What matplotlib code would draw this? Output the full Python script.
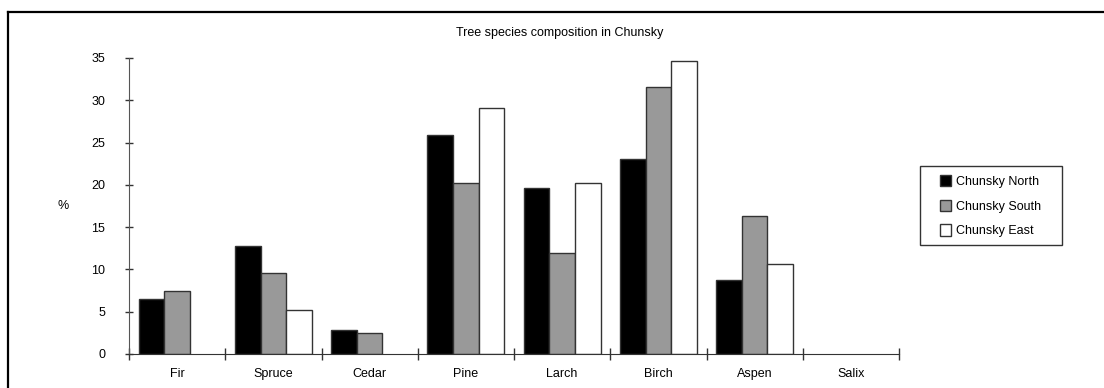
import numpy as np
import matplotlib
matplotlib.use("Agg")
import matplotlib.pyplot as plt
from matplotlib.lines import Line2D
from matplotlib.patches import Patch, Rectangle

plt.rcParams['font.family'] = ['Liberation Sans', 'DejaVu Sans']

species = ["Fir", "Spruce", "Cedar", "Pine", "Larch", "Birch", "Aspen", "Salix"]
series_names = ["Chunsky North", "Chunsky South", "Chunsky East"]
north = [6.5, 12.8, 2.8, 25.9, 19.6, 23.1, 8.8, 0.0]
south = [7.5, 9.6, 2.5, 20.2, 12.0, 31.6, 16.3, 0.0]
east = [0.0, 5.2, 0.0, 29.1, 20.2, 34.6, 10.7, 0.0]
y_ticks = [0, 5, 10, 15, 20, 25, 30, 35]

W, H = 1104, 388
fig = plt.figure(figsize=(W / 100, H / 100), dpi=100)
fig.patch.set_facecolor("white")

# outer chart frame (top and left edges visible)
fig.add_artist(Line2D([8 / W, 1.0], [1 - 12 / H, 1 - 12 / H], color="black", lw=1.6,
                      transform=fig.transFigure))
fig.add_artist(Line2D([8 / W, 8 / W], [1 - 12 / H, 0.0], color="black", lw=1.6,
                      transform=fig.transFigure))

left, right, bottom, top = 129 / W, 899 / W, 1 - 354 / H, 1 - 58 / H
ax = fig.add_axes([left, bottom, right - left, top - bottom])

n = len(species)
x = np.arange(n)
group = 0.8
bw = group / 3
colors = ["#000000", "#999999", "#ffffff"]
edge = "#333333"
handles = []
for i, (vals, c, name) in enumerate(zip([north, south, east], colors, series_names)):
    pos = x - group / 2 + bw * (i + 0.5)
    vals = np.asarray(vals)
    mask = vals > 0
    ax.bar(pos[mask], vals[mask], width=bw, color=c, edgecolor=edge, linewidth=1.0)
    handles.append(Patch(facecolor=c, edgecolor=edge, linewidth=1.0, label=name))

ax.set_xlim(-0.5, n - 0.5)
ax.set_ylim(0, 35)

for s in ["top", "right"]:
    ax.spines[s].set_visible(False)
ax.spines["left"].set_color("#555555")
ax.spines["bottom"].set_color("#333333")

fs = 9
ax.set_yticks(y_ticks)
ax.set_yticklabels([str(v) for v in y_ticks], fontsize=fs)
ax.tick_params(axis="y", direction="inout", length=6, width=1, color="#333333", pad=14)

# ticks at category boundaries, labels at category centres
ax.set_xticks(np.arange(n + 1) - 0.5)
ax.set_xticklabels([])
ax.set_xticks(x, minor=True)
ax.set_xticklabels(species, minor=True, fontsize=fs)
ax.tick_params(axis="x", which="major", direction="inout", length=8, width=1, color="#333333")
ax.tick_params(axis="x", which="minor", length=0, pad=10)

fig.text(63 / W, 1 - 206 / H, "%", fontsize=fs, ha="center", va="center")
fig.text(560 / W, 1 - 33 / H, "Tree species composition in Chunsky", fontsize=fs,
         ha="center", va="center")

# legend frame
fig.add_artist(Rectangle((920 / W, 1 - 245 / H), (1062 - 920) / W, (245 - 165.5) / H,
                         transform=fig.transFigure, facecolor="white",
                         edgecolor="#333333", linewidth=1.0, zorder=1))
leg = fig.legend(handles=handles, loc="upper left",
                 bbox_to_anchor=(940 / W, 1 - 175 / H), fontsize=fs,
                 frameon=False, borderpad=0, handlelength=0.9,
                 handleheight=1.0, handletextpad=0.4, labelspacing=0.95,
                 borderaxespad=0)
leg.set_zorder(2)

fig.savefig("out.png", dpi=100)
